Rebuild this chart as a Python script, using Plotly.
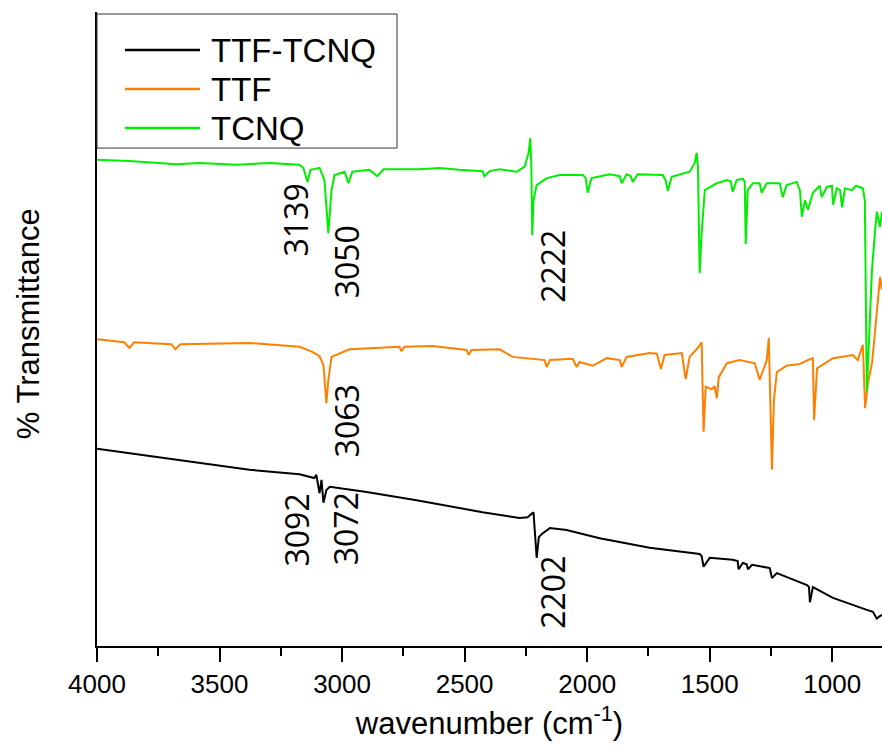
import plotly.graph_objects as go

# ---------------- data ----------------
tcnq_wn = [4000, 3868, 3676, 3582, 3427, 3296, 3174, 3158, 3141, 3129, 3092, 3072, 3056, 3043, 3031,
           2990, 2974, 2958, 2888, 2856, 2831, 2684, 2602, 2521, 2427, 2419, 2398, 2357, 2288, 2255,
           2239, 2232, 2228, 2224, 2219, 2206, 2165, 2112, 2018, 2006, 1998, 1982, 1908, 1867, 1859,
           1839, 1822, 1814, 1794, 1692, 1680, 1671, 1655, 1582, 1561, 1553, 1548, 1541, 1533, 1520,
           1471, 1430, 1414, 1406, 1390, 1365, 1357, 1353, 1345, 1324, 1296, 1288, 1267, 1214, 1202,
           1186, 1145, 1132, 1124, 1111, 1099, 1079, 1051, 1043, 1022, 1001, 997, 981, 968, 960,
           948, 920, 903, 887, 875, 867, 863, 859, 850, 838, 825, 818, 805, 797]
tcnq_t = [76.7, 76.5, 76.0, 76.2, 75.9, 76.2, 75.9, 75.4, 73.2, 75.1, 75.4, 73.5, 65.1, 71.9, 74.3,
          74.8, 73.0, 74.8, 75.1, 74.1, 75.2, 75.2, 75.4, 75.1, 74.9, 74.1, 74.9, 75.2, 74.8, 75.6,
          77.8, 80.1, 76.2, 64.8, 70.3, 72.7, 73.8, 74.3, 74.3, 73.8, 71.5, 73.8, 74.4, 74.1, 73.0,
          74.4, 74.1, 73.2, 74.4, 74.3, 73.5, 71.8, 74.0, 74.8, 76.2, 77.8, 75.6, 58.8, 65.1, 71.9,
          73.0, 73.5, 73.3, 71.6, 73.5, 73.7, 73.2, 63.4, 71.9, 73.0, 73.0, 71.5, 73.0, 73.0, 70.8,
          72.7, 73.2, 71.9, 67.7, 70.3, 68.8, 71.5, 72.6, 70.8, 72.4, 72.6, 69.6, 72.2, 71.9, 69.2,
          72.2, 71.9, 72.6, 72.4, 72.2, 70.3, 54.6, 40.1, 48.3, 59.3, 65.6, 68.5, 66.1, 68.5]

ttf_wn = [4000, 3889, 3868, 3848, 3697, 3680, 3660, 3378, 3174, 3121, 3092, 3076, 3064, 3056, 3043,
          2970, 2766, 2758, 2745, 2631, 2492, 2484, 2472, 2357, 2304, 2174, 2165, 2152, 2059, 2043,
          2031, 1978, 1920, 1867, 1859, 1839, 1745, 1716, 1699, 1684, 1614, 1598, 1582, 1549, 1533,
          1525, 1516, 1492, 1480, 1471, 1463, 1430, 1378, 1316, 1296, 1267, 1259, 1250, 1246, 1238,
          1226, 1186, 1132, 1087, 1079, 1074, 1062, 997, 916, 896, 875, 866, 854, 837, 826,
          814, 805, 797]
ttf_t = [48.4, 47.9, 47.0, 47.9, 47.6, 46.8, 47.6, 47.8, 47.2, 46.4, 45.7, 44.3, 38.3, 42.0, 45.6,
         46.8, 47.2, 46.5, 47.2, 47.3, 46.7, 45.9, 46.7, 46.8, 45.6, 45.1, 44.0, 45.1, 45.3, 44.0,
         44.8, 44.2, 45.4, 45.1, 44.0, 45.6, 46.2, 46.1, 43.7, 45.9, 46.2, 42.1, 45.6, 47.0, 47.9,
         33.8, 40.9, 40.5, 41.0, 39.1, 42.4, 44.6, 45.1, 44.6, 42.0, 45.1, 48.6, 30.9, 27.8, 38.8,
         43.2, 44.2, 44.5, 45.3, 45.4, 35.6, 43.8, 45.4, 45.9, 45.1, 47.5, 37.5, 41.5, 44.8, 49.5,
         54.6, 58.2, 56.2]

cplx_wn = [4000, 3378, 3174, 3113, 3105, 3092, 3084, 3076, 3064, 3050, 2900, 2696, 2427, 2276, 2243,
           2219, 2206, 2197, 2181, 2152, 2084, 1949, 1745, 1541, 1533, 1525, 1500, 1406, 1386, 1382,
           1365, 1349, 1344, 1327, 1255, 1246, 1226, 1103, 1095, 1091, 1079, 997, 859, 834, 818,
           810, 797]
cplx_t = [31.1, 27.8, 27.1, 26.5, 27.0, 24.1, 26.2, 22.6, 24.6, 25.1, 24.3, 23.0, 21.1, 20.2, 20.3,
          21.1, 13.9, 17.2, 17.8, 18.6, 18.3, 17.0, 15.5, 14.5, 14.2, 12.5, 13.9, 13.6, 13.4, 12.1,
          13.1, 12.9, 12.1, 12.8, 12.3, 10.7, 11.5, 9.6, 9.3, 6.9, 9.3, 7.6, 5.7, 5.4, 4.3,
          4.6, 4.9]

series_names = ["TTF-TCNQ", "TTF", "TCNQ"]
series_colors = ["#000000", "#FF7F00", "#00EE00"]

peak_labels = ["3139", "3050", "2222", "3063", "3092", "3072", "2202"]
peak_label_wn = [3190, 2982, 2141, 2982, 3186, 2986, 2145]
peak_label_t = [67.2, 60.6, 59.9, 35.5, 18.3, 18.5, 8.5]

x_ticks = [4000, 3500, 3000, 2500, 2000, 1500, 1000]

# ---------------- figure ----------------
fig = go.Figure()
for wn, t, name, col in zip([cplx_wn, ttf_wn, tcnq_wn], [cplx_t, ttf_t, tcnq_t],
                            series_names, series_colors):
    fig.add_trace(go.Scatter(x=wn, y=t, mode="lines", name=name, showlegend=False,
                             line=dict(color=col, width=2)))

for lab, wx, ty in zip(peak_labels, peak_label_wn, peak_label_t):
    fig.add_annotation(x=wx, y=ty, text=lab, showarrow=False, textangle=-90,
                       xanchor="center", yanchor="middle",
                       font=dict(family="Open Sans", size=32, color="#000"))

fig.add_annotation(xref="paper", yref="paper", x=0, y=0.5076, xshift=-69,
                   text="% Transmittance", showarrow=False, textangle=-90,
                   xanchor="center", yanchor="middle",
                   font=dict(family="Liberation Sans, Arial", size=31, color="#000"))

# legend box (drawn as shapes + text so its geometry matches)
fig.add_shape(type="rect", xref="paper", yref="paper", x0=0, x1=0.3822, y0=0.7854, y1=0.9968,
              line=dict(color="#333", width=1), fillcolor="white", layer="above")
legend_rows = [0.940, 0.8785, 0.8169]
for name, col, ry in zip(series_names, series_colors, legend_rows):
    fig.add_shape(type="line", xref="paper", yref="paper", x0=0.0357, x1=0.1312, y0=ry, y1=ry,
                  line=dict(color=col, width=2.5), layer="above")
    fig.add_annotation(xref="paper", yref="paper", x=0.1427, y=ry, text=name, showarrow=False,
                       xanchor="left", yanchor="middle",
                       font=dict(family="Liberation Sans, Arial", size=33, color="#000"))

fig.update_layout(
    width=882, height=749,
    margin=dict(l=97, r=0, t=12, b=103),
    paper_bgcolor="white", plot_bgcolor="white",
    font=dict(family="Liberation Sans, Arial", color="#000"),
    showlegend=False,
    xaxis=dict(range=[4000, 797], tickvals=x_ticks, ticks="outside", ticklen=14,
               tickwidth=2, tickcolor="#000", showline=True, linewidth=2, linecolor="#000",
               showgrid=False, zeroline=False, tickfont=dict(size=26),
               minor=dict(dtick=250, tick0=0, ticks="outside", ticklen=8, tickwidth=2,
                          tickcolor="#000", showgrid=False),
               title=dict(text="wavenumber (cm<sup>-1</sup>)", font=dict(size=31), standoff=14)),
    yaxis=dict(range=[0, 100], showline=True, linewidth=2, linecolor="#000",
               showticklabels=False, ticks="", showgrid=False, zeroline=False),
)

fig.write_html("out.html")
